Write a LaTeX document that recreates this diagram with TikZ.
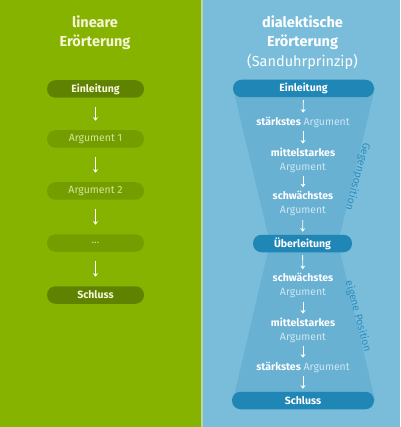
\documentclass[tikz,border=0pt]{standalone}
\usepackage{fontspec}
\setmainfont{Fira Sans}
\usetikzlibrary{positioning,arrows.meta}
\definecolor{gruen}{HTML}{86B300}
\definecolor{gruendunkel}{HTML}{5F8200}
\definecolor{gruenmittel}{HTML}{749E00}
\definecolor{gruentext}{HTML}{D4E59A}
\definecolor{creme}{HTML}{F5F5D8}
\definecolor{trenner}{HTML}{B9D6A6}
\definecolor{blau}{HTML}{79BDDA}
\definecolor{blautrichter}{HTML}{68B1D2}
\definecolor{blaudunkel}{HTML}{1F86B6}
\definecolor{blauargument}{HTML}{CFE7F3}
\definecolor{blaulabel}{HTML}{2B8DC0}

\begin{document}
\begin{tikzpicture}[
	x=1pt, y=-1pt,
	every node/.style={outer sep=0pt},
	node distance=52pt,
	titel/.style={align=center, font=\bfseries\fontsize{14.5}{19.5}\selectfont},
	pill/.style={rounded corners=8.5pt, minimum height=17.5pt, inner sep=0pt,
		font=\fontsize{10.5}{12}\selectfont},
	gpill/.style={pill, fill=gruendunkel, text=creme, minimum width=97pt, font=\bfseries\fontsize{10.5}{12}\selectfont},
	gapill/.style={pill, fill=gruenmittel, text=gruentext, minimum width=97pt},
	bpill/.style={pill, fill=blaudunkel, text=white, font=\bfseries\fontsize{10.5}{12}\selectfont},
	arg/.style={text=white, align=center, inner sep=1pt, font=\fontsize{10.5}{14}\selectfont},
	seite/.style={text=blaulabel, font=\fontsize{10.5}{12}\selectfont},
	pfeil/.style={draw=white, line width=0.9pt, -{Stealth[length=3.5pt,width=5pt]}},
]
\useasboundingbox (0,0) rectangle (400,427);
% Hintergrund: links gruen, rechts blau, dazwischen ein heller Streifen.
\fill[gruen] (0,0) rectangle (200.5,427);
\fill[trenner] (200.5,0) rectangle (203,427);
\fill[blau] (203,0) rectangle (400,427);
% Sanduhr hinter dem rechten Ablauf.
\fill[blautrichter] (233,88) -- (375,88) -- (338,243) -- (375,400)
	-- (233,400) -- (270,243) -- cycle;

% Input 1: Name, Input 2: y-Position, Input 3: fetter Teil.
\def\argzeile(#1)#2#3{
	\node[arg] (#1) at (303,#2) {\textbf{#3}\\\textcolor{blauargument}{Argument}};
}
% \verbinde{von}{nach}, gekuerzt um #1.
\def\verbinde[#1]#2#3{
	\draw[pfeil, shorten <=#1, shorten >=#1] (#2) -- (#3);
}

	% linke Spalte
	\node[titel, text=creme] (ltitel) at (95,32.5) {lineare\\Erörterung};
	\node[gpill] (lein) at (95.5,89) {Einleitung};
	\node[gapill, below of=lein, node distance=50pt] (larg1) {Argument 1};
	\node[gapill, below of=larg1] (larg2) {Argument 2};
	\node[gapill, below of=larg2] (lpunkte) {...};
	\node[gpill, below of=lpunkte] (lschluss) {Schluss};
	\verbinde[9.5pt]{lein}{larg1}
	\verbinde[9.5pt]{larg1}{larg2}
	\verbinde[9.5pt]{larg2}{lpunkte}
	\verbinde[9.5pt]{lpunkte}{lschluss}

	% rechte Spalte
	\node[titel, text=white] (rtitel) at (302.5,32.5) {dialektische\\Erörterung};
	\node[text=white, font=\fontsize{14.5}{17}\selectfont] (sanduhr) at (302.5,62)
		{(Sanduhrprinzip)};
	\node[bpill, minimum width=141pt] (rein) at (303.5,88.5) {Einleitung};
	\node[arg] (rstark1) at (303,122)
		{\textbf{stärkstes} \textcolor{blauargument}{Argument}};
	\argzeile(rmittel1){160}{mittelstarkes}
	\argzeile(rschwach1){203.5}{schwächstes}
	\node[bpill, minimum width=99pt] (rueber) at (302.5,243.5) {Überleitung};
	\argzeile(rschwach2){285.5}{schwächstes}
	\argzeile(rmittel2){330}{mittelstarkes}
	\node[arg] (rstark2) at (303,367)
		{\textbf{stärkstes} \textcolor{blauargument}{Argument}};
	\node[bpill, minimum width=142pt] (rschluss) at (303,400.5) {Schluss};
	\verbinde[3pt]{rein}{rstark1}
	\verbinde[3pt]{rstark1}{rmittel1}
	\verbinde[3pt]{rmittel1}{rschwach1}
	\verbinde[3pt]{rschwach1}{rueber}
	\verbinde[3pt]{rueber}{rschwach2}
	\verbinde[3pt]{rschwach2}{rmittel2}
	\verbinde[3pt]{rmittel2}{rstark2}
	\verbinde[3pt]{rstark2}{rschluss}

	\node[seite, rotate=-105] (gegen) at (357.5,176.5) {Gegenposition};
	\node[seite, rotate=-75] (eigen) at (358,316.5) {eigene Position};
\end{tikzpicture}
\end{document}
